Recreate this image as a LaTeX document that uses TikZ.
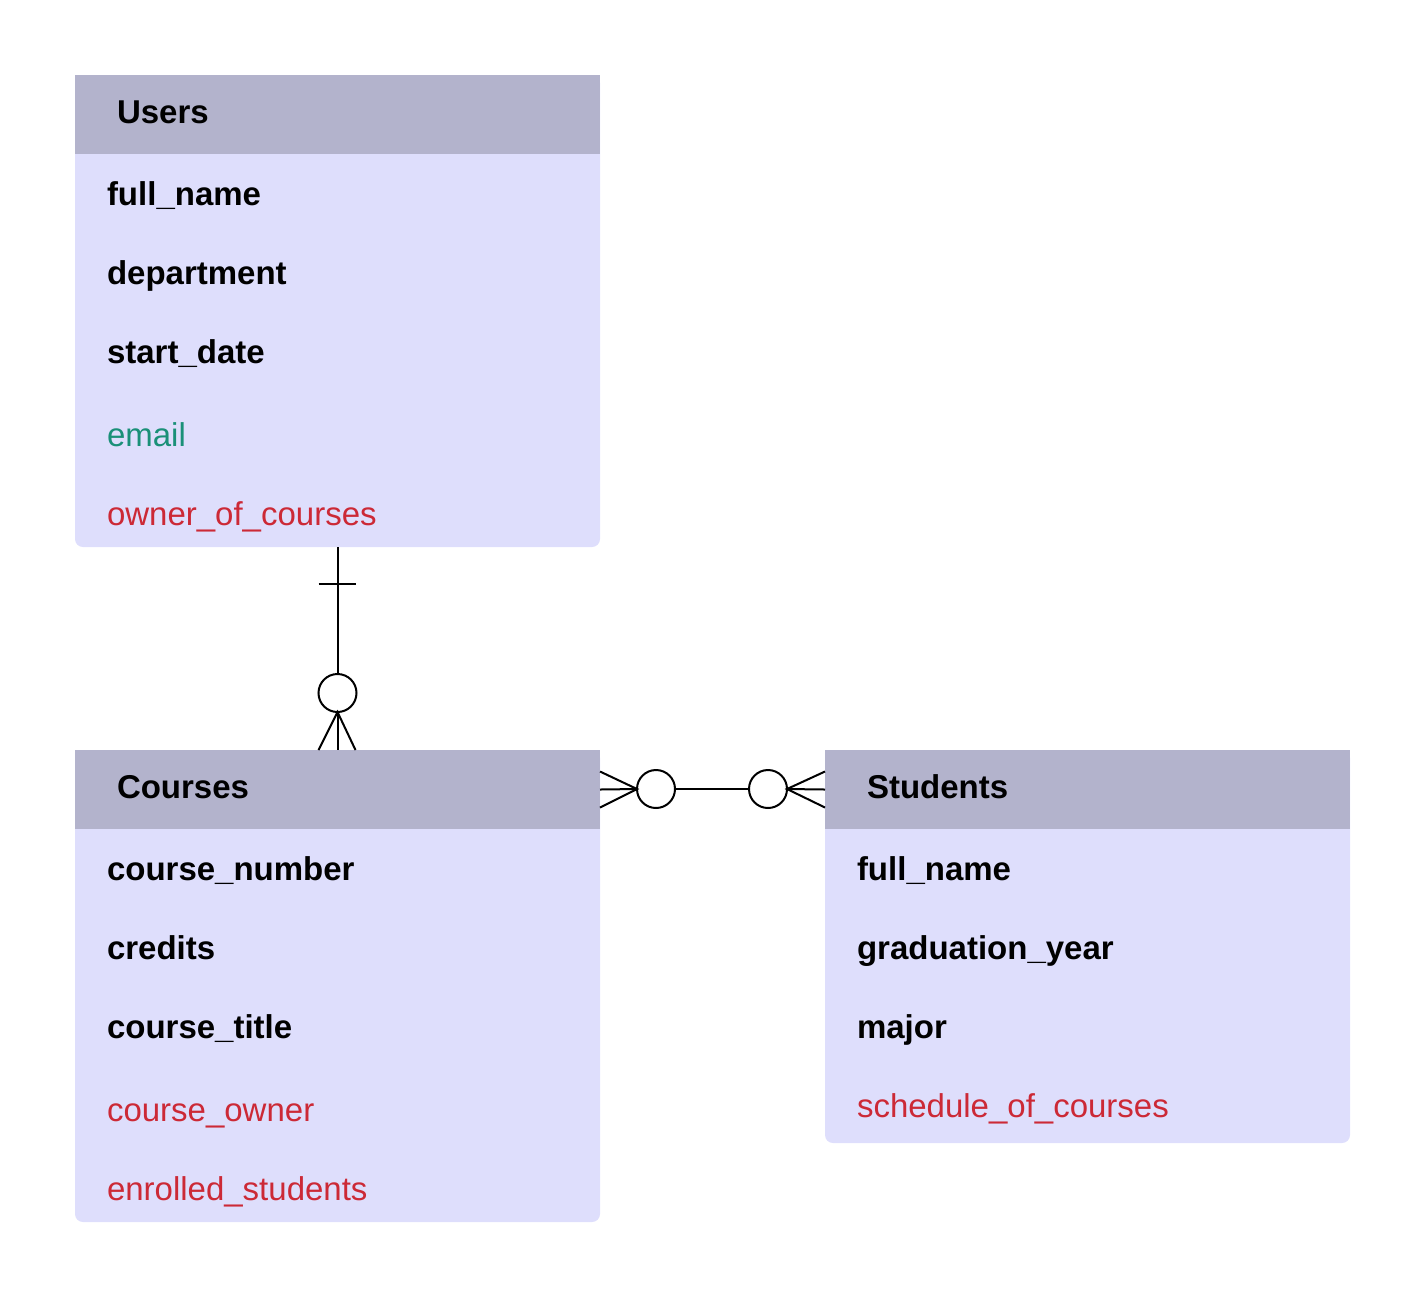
\documentclass[tikz,border=0pt]{standalone}
\usepackage{fontspec}
\setmainfont{Liberation Sans}
\usetikzlibrary{positioning}
\definecolor{headgray}{HTML}{B3B3CC}
\definecolor{bodyblue}{HTML}{DEDEFC}
\definecolor{linkred}{HTML}{CC2936}
\definecolor{mailgreen}{HTML}{1A9078}

\begin{document}
\begin{tikzpicture}[
    x=0.5pt, y=-0.5pt,
    every node/.style={inner sep=0pt, outer sep=0pt},
    tablebody/.style={
        fill=bodyblue, rounded corners=4pt,
        minimum width=262.5pt, anchor=north west
    },
    tablehead/.style={
        fill=headgray,
        minimum width=262.5pt, minimum height=39.5pt,
        anchor=north west
    },
    headtext/.style={font=\fontsize{16.5}{20}\selectfont\bfseries, anchor=base west},
    field/.style={font=\fontsize{16.5}{20}\selectfont\bfseries, anchor=base west},
    mailfield/.style={font=\fontsize{16.5}{20}\selectfont, text=mailgreen, anchor=base west},
    linkfield/.style={font=\fontsize{16.5}{20}\selectfont, text=linkred, anchor=base west},
    zero/.style={circle, draw, fill=white, line width=1pt, minimum size=19pt},
    rel/.style={line width=1pt}
]
\useasboundingbox (0,0) rectangle (1425,1298);

% Users
\node[tablebody, minimum height=236pt] (ubody) at (75,75) {};
\node[tablehead] (uhead) at (75,75) {};
\node[headtext] (utitle) at (117,123) {Users};
\node[field] (u1) at (107,205) {full\_name};
\node[field] (u2) at (107,284) {department};
\node[field] (u3) at (107,363) {start\_date};
\node[mailfield] (u4) at (107,446) {email};
\node[linkfield] (u5) at (107,525) {owner\_of\_courses};

% Courses
\node[tablebody, minimum height=236pt] (cbody) at (75,750) {};
\node[tablehead] (chead) at (75,750) {};
\node[headtext] (ctitle) at (117,798) {Courses};
\node[field] (c1) at (107,880) {course\_number};
\node[field] (c2) at (107,959) {credits};
\node[field] (c3) at (107,1038) {course\_title};
\node[linkfield] (c4) at (107,1121) {course\_owner};
\node[linkfield] (c5) at (107,1200) {enrolled\_students};

% Students
\node[tablebody, minimum height=196.5pt] (sbody) at (825,750) {};
\node[tablehead] (shead) at (825,750) {};
\node[headtext] (stitle) at (867,798) {Students};
\node[field] (s1) at (857,880) {full\_name};
\node[field] (s2) at (857,959) {graduation\_year};
\node[field] (s3) at (857,1038) {major};
\node[linkfield] (s4) at (857,1117) {schedule\_of\_courses};

% Users -- Courses
\coordinate (ubar) at (337.5,584);
\node[zero] (uzero) at (337.5,693) {};
\draw[rel] (ubody.south) -- (uzero.north);
\draw[rel] ([xshift=-9.5pt]ubar) -- ([xshift=9pt]ubar);
\draw[rel] ([xshift=-9.5pt]chead.north) -- (uzero.south) -- ([xshift=9pt]chead.north);
\draw[rel] (uzero.south) -- (chead.north);

% Courses -- Students
\node[zero] (czero) at (656,789) {};
\node[zero] (szero) at (768,789) {};
\draw[rel] (czero.east) -- (szero.west);
\draw[rel] ([yshift=9pt]chead.east) -- (czero.west) -- ([yshift=-9pt]chead.east);
\draw[rel] (chead.east) -- (czero.west);
\draw[rel] ([yshift=9pt]shead.west) -- (szero.east) -- ([yshift=-9pt]shead.west);
\draw[rel] (shead.west) -- (szero.east);
\end{tikzpicture}
\end{document}
